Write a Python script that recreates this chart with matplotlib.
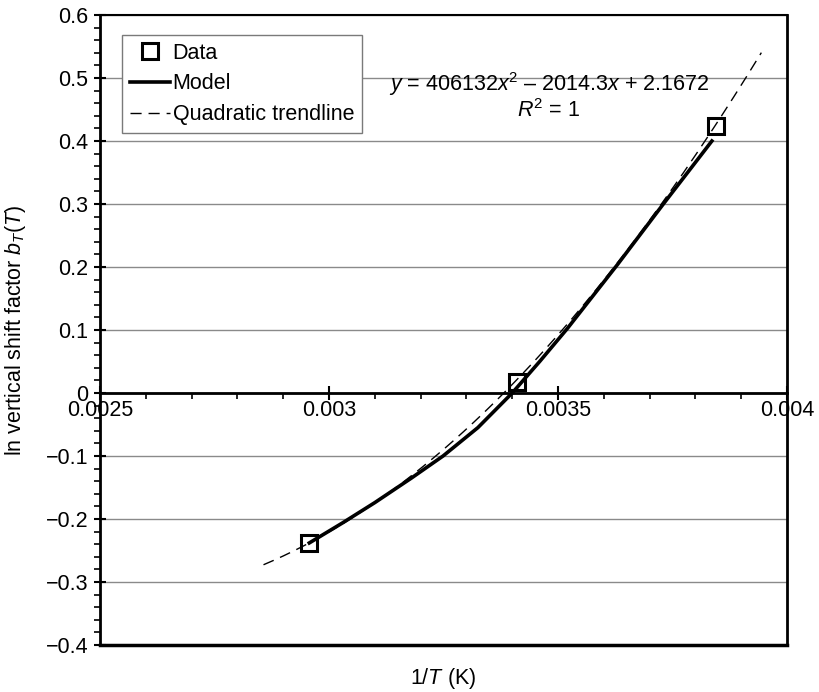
import numpy as np
import matplotlib
matplotlib.use("Agg")
import matplotlib.pyplot as plt
from matplotlib.ticker import MultipleLocator, FixedLocator, FixedFormatter, FuncFormatter

plt.rcParams['font.family'] = ['Liberation Sans', 'DejaVu Sans']
plt.rcParams['mathtext.fontset'] = 'custom'
plt.rcParams['mathtext.rm'] = 'Liberation Sans'
plt.rcParams['mathtext.it'] = 'Liberation Sans:italic'

FS = 15.5

# Data
data_x = [0.002957, 0.003411, 0.003844]
data_y = [-0.238, 0.018, 0.424]

# Model curve
model_x = [0.002957, 0.00303, 0.00310, 0.00318, 0.003249, 0.003325, 0.00340,
           0.00346, 0.00352, 0.00363, 0.00373, 0.003836]
model_y = [-0.238, -0.206, -0.174, -0.135, -0.100, -0.055, 0.000,
           0.050, 0.102, 0.204, 0.300, 0.400]

# Quadratic trendline coefficients (from the equation shown)
trend_coef = [406132.0, -2014.3, 2.1672]
trend_range = [0.002857, 0.003944]

x_ticks = [0.0025, 0.003, 0.0035, 0.004]
x_tick_labels = ['0.0025', '0.003', '0.0035', '0.004']

fig = plt.figure(figsize=(8.19, 6.92), dpi=100)
ax = fig.add_axes([100/819, 47/692, 687/819, 630/692])

ax.set_xlim(0.0025, 0.004)
ax.set_ylim(-0.4, 0.6)

# gridlines
ax.yaxis.set_major_locator(MultipleLocator(0.1))
ax.yaxis.set_minor_locator(MultipleLocator(0.02))
ax.yaxis.set_major_formatter(FuncFormatter(
    lambda v, p: '0' if abs(v) < 1e-9 else ('%.1f' % v).replace('-', '\u2212')))
ax.grid(axis='y', which='major', color='#8a8a8a', lw=1.0, zorder=0)
ax.set_axisbelow(True)

tx = np.linspace(trend_range[0], trend_range[1], 200)
ty = np.polyval(trend_coef, tx)
ax.plot(tx, ty, color='k', lw=1.0, ls=(0, (8, 5)), label='Quadratic trendline', zorder=3)
ax.plot(model_x, model_y, color='k', lw=2.6, label='Model', zorder=4,
        solid_joinstyle='round')
ax.plot(data_x, data_y, ls='none', marker='s', ms=11.5, mfc='none', mec='k', mew=2.2,
        label='Data', zorder=5)

# spines
ax.spines['bottom'].set_position(('data', 0))
for s in ['left', 'right', 'bottom']:
    ax.spines[s].set_linewidth(2.0)
ax.spines['top'].set_linewidth(1.5)
ax.plot([0, 1], [0, 0], transform=ax.transAxes, color='k', lw=2.5, clip_on=False, zorder=6)

ax.xaxis.set_major_locator(FixedLocator(x_ticks))
ax.xaxis.set_major_formatter(FixedFormatter(x_tick_labels))
ax.xaxis.set_minor_locator(MultipleLocator(0.0001))
ax.tick_params(axis='x', which='major', direction='inout', length=10, width=1.5,
               labelsize=FS, pad=0)
ax.tick_params(axis='x', which='minor', direction='out', length=4, width=1.2)
ax.tick_params(axis='y', which='major', direction='inout', length=9, width=1.5,
               labelsize=FS, pad=4)
ax.tick_params(axis='y', which='minor', direction='out', length=4, width=1.2)

ax.set_ylabel(r'ln vertical shift factor $b_T(T)$', fontsize=FS)
ax.yaxis.set_label_coords(-0.105, 0.5)
ax.set_xlabel(r'1/$T$ (K)', fontsize=FS)
ax.xaxis.set_label_coords(0.5, -0.034)

ax.text(0.653, 0.871, r'$y$ = 406132$x^2$ – 2014.3$x$ + 2.1672' + '\n' + r'$R^2$ = 1',
        transform=ax.transAxes, ha='center', va='center', fontsize=FS,
        linespacing=1.05, multialignment='center')

handles, labels = ax.get_legend_handles_labels()
order = [2, 1, 0]
leg = ax.legend([handles[i] for i in order], [labels[i] for i in order],
                loc='upper left', bbox_to_anchor=(0.032, 0.968), fontsize=FS,
                fancybox=False, framealpha=1, edgecolor='#7a7a7a',
                handlelength=1.9, handletextpad=0.1, borderpad=0.35,
                labelspacing=0.45, borderaxespad=0)
leg.get_frame().set_linewidth(1.0)
leg.set_zorder(7)

fig.savefig('out.png', dpi=100)
